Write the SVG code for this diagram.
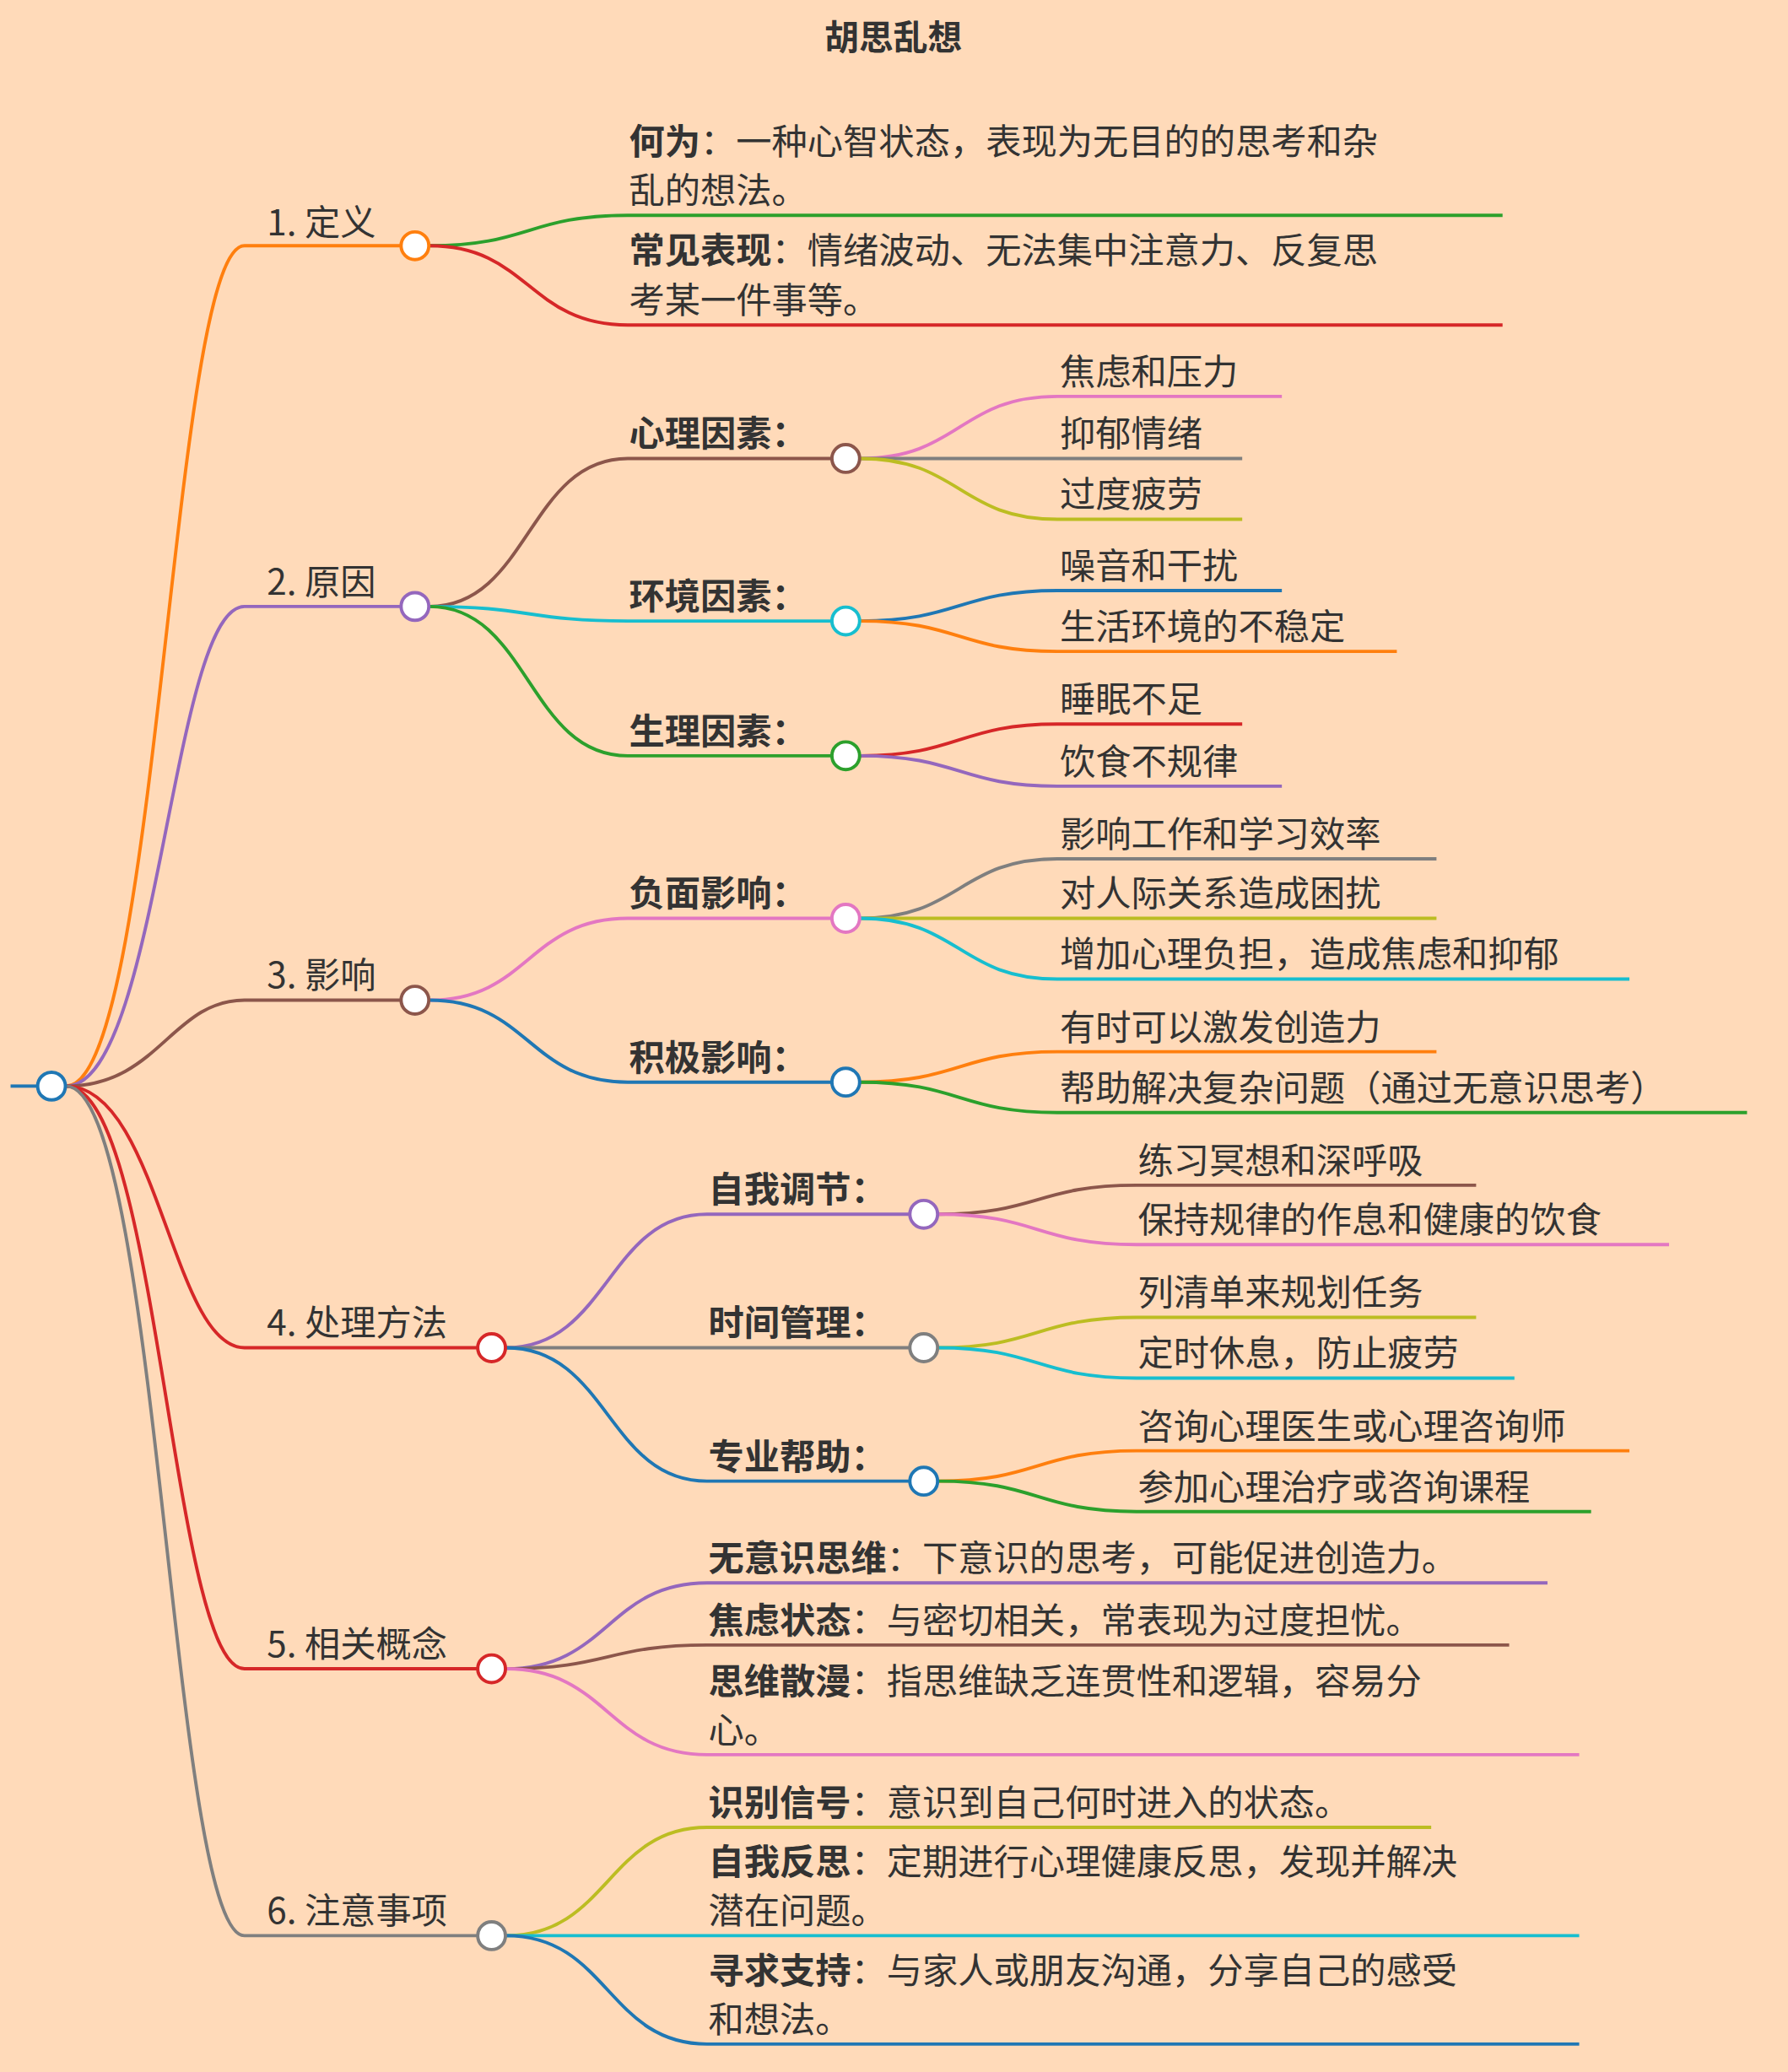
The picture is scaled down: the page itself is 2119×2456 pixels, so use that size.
<svg xmlns="http://www.w3.org/2000/svg" width="2119" height="2456" viewBox="0 0 2119 2456">
<style>
text{font-family:"Noto Sans CJK SC","Noto Sans",sans-serif;font-size:27px;fill:#333}
.b{font-weight:bold}
.c path{fill:none;stroke-width:2.5}
circle{fill:#fff;stroke-width:2.5}
</style>
<rect width="2119" height="2456" fill="#ffdab9"/>
<g transform="scale(1.56615)">
<text x="676" y="38" text-anchor="middle" class="b" style="font-size:26px">胡思乱想</text>
<g class="c" id="connectors">
<path d="M8 822H28" stroke="#1f77b4"/>
<path d="M50 822C120 822,130 186,185 186H304" stroke="#ff7f0e"/>
<path d="M50 822C120 822,130 459,185 459H304" stroke="#9467bd"/>
<path d="M50 822C120 822,130 757,185 757H304" stroke="#8c564b"/>
<path d="M50 822C120 822,130 1020,185 1020H362" stroke="#d62728"/>
<path d="M50 822C120 822,130 1263,185 1263H362" stroke="#d62728"/>
<path d="M50 822C120 822,130 1465,185 1465H362" stroke="#7f7f7f"/>
<path d="M325 186C400 186,400 163,475 163H1137" stroke="#2ca02c"/>
<path d="M325 186C400 186,400 246,475 246H1137" stroke="#d62728"/>
<path d="M325 459C400 459,400 347,475 347H630" stroke="#8c564b"/>
<path d="M325 459C400 459,400 470,475 470H630" stroke="#17becf"/>
<path d="M325 459C400 459,400 572,475 572H630" stroke="#2ca02c"/>
<path d="M651 347C726 347,726 300,800 300H970" stroke="#e377c2"/>
<path d="M651 347H940" stroke="#7f7f7f"/>
<path d="M651 347C726 347,726 393,800 393H940" stroke="#bcbd22"/>
<path d="M651 470C726 470,726 447,800 447H970" stroke="#1f77b4"/>
<path d="M651 470C726 470,726 493,800 493H1057" stroke="#ff7f0e"/>
<path d="M651 572C726 572,726 548,800 548H940" stroke="#d62728"/>
<path d="M651 572C726 572,726 595,800 595H970" stroke="#9467bd"/>
<path d="M325 757C400 757,400 695,475 695H630" stroke="#e377c2"/>
<path d="M325 757C400 757,400 819,475 819H630" stroke="#1f77b4"/>
<path d="M651 695C726 695,726 650,800 650H1087" stroke="#7f7f7f"/>
<path d="M651 695H1087" stroke="#bcbd22"/>
<path d="M651 695C726 695,726 741,800 741H1233" stroke="#17becf"/>
<path d="M651 819C726 819,726 796,800 796H1087" stroke="#ff7f0e"/>
<path d="M651 819C726 819,726 842,800 842H1322" stroke="#2ca02c"/>
<path d="M383 1020C460 1020,460 919,535 919H689" stroke="#9467bd"/>
<path d="M383 1020H689" stroke="#7f7f7f"/>
<path d="M383 1020C460 1020,460 1121,535 1121H689" stroke="#1f77b4"/>
<path d="M710 919C785 919,785 897,860 897H1117" stroke="#8c564b"/>
<path d="M710 919C785 919,785 942,860 942H1263" stroke="#e377c2"/>
<path d="M710 1020C785 1020,785 997,860 997H1117" stroke="#bcbd22"/>
<path d="M710 1020C785 1020,785 1043,860 1043H1146" stroke="#17becf"/>
<path d="M710 1121C785 1121,785 1098,860 1098H1233" stroke="#ff7f0e"/>
<path d="M710 1121C785 1121,785 1144,860 1144H1204" stroke="#2ca02c"/>
<path d="M383 1263C460 1263,460 1198,535 1198H1171" stroke="#9467bd"/>
<path d="M383 1263C460 1263,460 1245,535 1245H1142" stroke="#8c564b"/>
<path d="M383 1263C460 1263,460 1328,535 1328H1195" stroke="#e377c2"/>
<path d="M383 1465C460 1465,460 1383,535 1383H1083" stroke="#bcbd22"/>
<path d="M383 1465H1195" stroke="#17becf"/>
<path d="M383 1465C460 1465,460 1547,535 1547H1195" stroke="#1f77b4"/>
</g>
<g id="root"><circle cx="39" cy="822" r="10.5" stroke="#1f77b4"/></g>
<g id="n1"><text x="202" y="178">1. 定义</text><circle cx="314" cy="186" r="10.5" stroke="#ff7f0e"/></g>
<g id="n1a"><text x="476" y="117"><tspan class="b">何为</tspan>：一种心智状态，表现为无目的的思考和杂</text><text x="476" y="154">乱的想法。</text></g>
<g id="n1b"><text x="476" y="199"><tspan class="b">常见表现</tspan>：情绪波动、无法集中注意力、反复思</text><text x="476" y="237">考某一件事等。</text></g>
<g id="n2"><text x="202" y="450">2. 原因</text><circle cx="314" cy="459" r="10.5" stroke="#9467bd"/></g>
<g id="n2a"><text x="476" y="338" class="b">心理因素：</text><circle cx="640" cy="347" r="10.5" stroke="#8c564b"/></g>
<g id="n2b"><text x="476" y="461" class="b">环境因素：</text><circle cx="640" cy="470" r="10.5" stroke="#17becf"/></g>
<g id="n2c"><text x="476" y="563" class="b">生理因素：</text><circle cx="640" cy="572" r="10.5" stroke="#2ca02c"/></g>
<g id="leaves2"><text x="802" y="291">焦虑和压力</text><text x="802" y="338">抑郁情绪</text><text x="802" y="384">过度疲劳</text><text x="802" y="438">噪音和干扰</text><text x="802" y="484">生活环境的不稳定</text><text x="802" y="539">睡眠不足</text><text x="802" y="586">饮食不规律</text></g>
<g id="n3"><text x="202" y="748">3. 影响</text><circle cx="314" cy="757" r="10.5" stroke="#8c564b"/></g>
<g id="n3a"><text x="476" y="686" class="b">负面影响：</text><circle cx="640" cy="695" r="10.5" stroke="#e377c2"/></g>
<g id="n3b"><text x="476" y="810" class="b">积极影响：</text><circle cx="640" cy="819" r="10.5" stroke="#1f77b4"/></g>
<g id="leaves3"><text x="802" y="641">影响工作和学习效率</text><text x="802" y="686">对人际关系造成困扰</text><text x="802" y="732">增加心理负担，造成焦虑和抑郁</text><text x="802" y="787">有时可以激发创造力</text><text x="802" y="833">帮助解决复杂问题（通过无意识思考）</text></g>
<g id="n4"><text x="202" y="1011">4. 处理方法</text><circle cx="372" cy="1020" r="10.5" stroke="#d62728"/></g>
<g id="n4a"><text x="536" y="910" class="b">自我调节：</text><circle cx="699" cy="919" r="10.5" stroke="#9467bd"/></g>
<g id="n4b"><text x="536" y="1011" class="b">时间管理：</text><circle cx="699" cy="1020" r="10.5" stroke="#7f7f7f"/></g>
<g id="n4c"><text x="536" y="1112" class="b">专业帮助：</text><circle cx="699" cy="1121" r="10.5" stroke="#1f77b4"/></g>
<g id="leaves4"><text x="861" y="888">练习冥想和深呼吸</text><text x="861" y="933">保持规律的作息和健康的饮食</text><text x="861" y="988">列清单来规划任务</text><text x="861" y="1034">定时休息，防止疲劳</text><text x="861" y="1089">咨询心理医生或心理咨询师</text><text x="861" y="1135">参加心理治疗或咨询课程</text></g>
<g id="n5"><text x="202" y="1254">5. 相关概念</text><circle cx="372" cy="1263" r="10.5" stroke="#d62728"/></g>
<g id="leaves5"><text x="536" y="1189"><tspan class="b">无意识思维</tspan>：下意识的思考，可能促进创造力。</text><text x="536" y="1236"><tspan class="b">焦虑状态</tspan>：与密切相关，常表现为过度担忧。</text><text x="536" y="1282"><tspan class="b">思维散漫</tspan>：指思维缺乏连贯性和逻辑，容易分</text><text x="536" y="1319">心。</text></g>
<g id="n6"><text x="202" y="1456">6. 注意事项</text><circle cx="372" cy="1465" r="10.5" stroke="#7f7f7f"/></g>
<g id="leaves6"><text x="536" y="1374"><tspan class="b">识别信号</tspan>：意识到自己何时进入的状态。</text><text x="536" y="1419"><tspan class="b">自我反思</tspan>：定期进行心理健康反思，发现并解决</text><text x="536" y="1456">潜在问题。</text><text x="536" y="1501"><tspan class="b">寻求支持</tspan>：与家人或朋友沟通，分享自己的感受</text><text x="536" y="1538">和想法。</text></g>
</g>
</svg>
